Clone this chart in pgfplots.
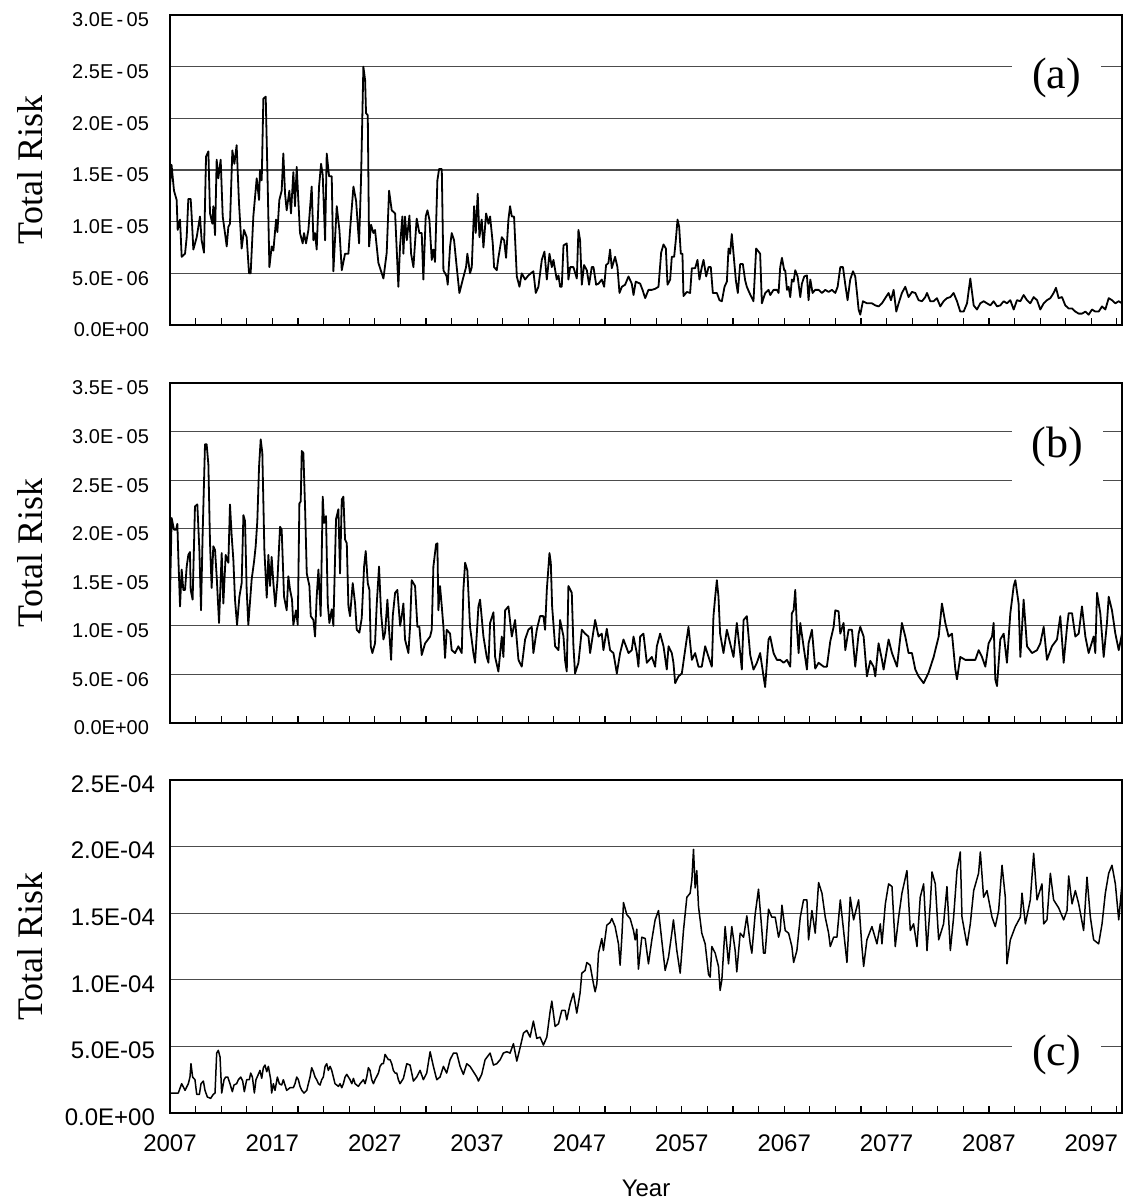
\documentclass[border=0pt]{standalone}
\usepackage{fontspec}
\setmainfont{Liberation Sans}
\newfontfamily\timesfont{Liberation Serif}
\usepackage{pgfplots}
\pgfplotsset{compat=1.18}

% y values: (a),(b) in units of 1E-06, (c) in units of 1E-05
\pgfplotsset{
  riskaxis/.style={
    scale only axis, width=476pt,
    xmin=2007, xmax=2100, ymin=0,
    axis line style={line width=1pt},
    ymajorgrids, grid style={black!70, line width=0.6pt},
    xtick={2007,2009.5,...,2099.6},
    xtick pos=bottom, tick align=inside,
    major tick length=3.5pt,
    x tick style={black, line width=0.6pt},
    ytick style={draw=none},
    ylabel={Total Risk},
    ylabel style={font=\timesfont\fontsize{18}{20}\selectfont,
      at={(axis description cs:0,0.5)}, anchor=center, rotate=0, yshift=70pt},
  },
  risk/.style={black, line width=0.9pt, no marks, line join=round},
}
\tikzset{panel/.style={fill=white, inner xsep=10pt, inner ysep=9pt,
    font=\timesfont\fontsize{22}{24}\selectfont}}
\newcommand{\smallticks}{\fontsize{10}{11}\selectfont}

\begin{document}
\begin{tikzpicture}
\path[use as bounding box] (0,0) rectangle (561.5pt,-600.5pt);

% ---------- (a)
\begin{axis}[riskaxis, at={(85pt,-7.5pt)}, anchor=north west,
  height=155pt, ymax=30,
  ytick={0,5,...,30},
  yticklabels={0.0E+00,5.0E\,-\,06,1.0E\,-\,05,1.5E\,-\,05,2.0E\,-\,05,2.5E\,-\,05,3.0E\,-\,05},
  yticklabel style={font=\smallticks, xshift=-7pt, yshift=-2.5pt},
  xticklabel=\empty]
\addplot[risk] coordinates {
(2007.00,13.4)(2007.15,15.5)(2007.39,13.0)(2007.65,12.1)(2007.75,9.2)(2007.98,10.2)
(2008.14,6.6)(2008.47,6.9)(2008.63,8.5)(2008.79,12.2)(2009.02,12.2)(2009.12,10.5)
(2009.28,7.3)(2009.61,8.5)(2009.93,10.5)(2010.09,8.2)(2010.32,7.0)(2010.52,16.3)
(2010.75,16.8)(2010.91,10.8)(2011.14,9.8)(2011.23,11.5)(2011.40,8.7)(2011.56,16.0)
(2011.72,14.2)(2011.95,16.0)(2012.15,10.5)(2012.37,8.9)(2012.54,7.6)(2012.70,9.5)
(2012.86,9.8)(2013.09,16.9)(2013.29,15.6)(2013.51,17.4)(2013.74,11.8)(2014.00,7.4)
(2014.23,9.2)(2014.49,8.5)(2014.72,5.0)(2014.88,5.0)(2015.14,10.5)(2015.47,14.2)
(2015.70,12.1)(2015.79,15.0)(2015.96,14.0)(2016.12,21.9)(2016.35,22.1)(2016.54,13.7)
(2016.71,5.6)(2016.93,7.6)(2017.10,7.2)(2017.36,10.2)(2017.49,9.0)(2017.68,12.1)
(2017.91,13.0)(2018.07,16.6)(2018.24,12.7)(2018.40,11.1)(2018.66,13.0)(2018.82,10.8)
(2019.05,14.8)(2019.21,11.5)(2019.38,15.3)(2019.54,12.0)(2019.70,8.9)(2019.96,7.9)
(2020.09,8.9)(2020.29,7.9)(2020.52,9.2)(2020.84,13.4)(2021.01,8.2)(2021.17,8.9)
(2021.33,7.3)(2021.56,13.4)(2021.76,15.6)(2021.92,14.5)(2022.15,8.2)(2022.31,16.6)
(2022.54,14.4)(2022.80,14.4)(2022.96,5.2)(2023.29,11.5)(2023.55,9.2)(2023.78,5.3)
(2024.10,6.9)(2024.43,6.9)(2024.59,9.2)(2024.92,13.4)(2025.18,12.0)(2025.47,7.9)
(2025.66,14.0)(2025.89,25.0)(2026.06,23.7)(2026.15,20.5)(2026.32,20.3)(2026.45,7.6)
(2026.64,9.7)(2026.87,8.9)(2027.03,9.2)(2027.36,6.0)(2027.85,4.5)(2028.17,7.0)
(2028.40,13.0)(2028.66,11.1)(2028.99,10.8)(2029.31,3.7)(2029.47,7.6)(2029.70,10.5)
(2029.80,6.9)(2029.96,10.5)(2030.13,8.2)(2030.39,10.6)(2030.55,6.9)(2030.78,5.6)
(2030.94,8.0)(2031.10,10.3)(2031.36,8.9)(2031.59,8.9)(2031.75,4.4)(2031.98,10.5)
(2032.15,11.1)(2032.34,10.2)(2032.57,6.3)(2032.73,7.3)(2032.89,6.1)(2033.12,14.0)
(2033.29,15.1)(2033.55,15.1)(2033.71,5.3)(2034.03,4.7)(2034.13,3.9)(2034.36,7.6)
(2034.52,8.9)(2034.75,8.2)(2035.01,5.6)(2035.27,3.1)(2035.60,4.4)(2035.92,5.6)
(2036.05,6.9)(2036.31,5.0)(2036.48,5.6)(2036.71,11.5)(2036.87,8.9)(2037.06,12.7)
(2037.23,8.5)(2037.45,10.2)(2037.62,7.5)(2037.88,10.8)(2038.11,9.8)(2038.27,10.5)
(2038.53,7.9)(2038.66,5.6)(2038.92,5.3)(2039.08,6.5)(2039.41,8.5)(2039.64,8.2)
(2039.83,6.5)(2040.06,10.2)(2040.22,11.5)(2040.39,10.5)(2040.61,10.5)(2040.88,4.7)
(2041.14,3.7)(2041.36,5.0)(2041.69,4.4)(2042.01,4.8)(2042.50,5.2)(2042.73,3.1)
(2042.99,3.7)(2043.32,6.3)(2043.58,7.1)(2043.81,4.4)(2044.07,6.9)(2044.30,5.6)
(2044.46,6.3)(2044.78,4.4)(2044.95,4.8)(2045.11,3.7)(2045.27,3.7)(2045.44,7.7)
(2045.76,7.9)(2045.92,4.4)(2046.09,5.6)(2046.41,5.6)(2046.74,4.5)(2046.90,9.2)
(2047.06,8.2)(2047.23,3.9)(2047.45,5.8)(2047.72,5.3)(2047.94,3.9)(2048.20,5.6)
(2048.37,5.6)(2048.63,3.9)(2048.86,4.0)(2049.18,4.4)(2049.41,3.7)(2049.60,5.8)
(2049.83,6.0)(2049.99,7.3)(2050.16,5.5)(2050.48,6.6)(2050.71,5.6)(2050.91,3.1)
(2051.14,3.7)(2051.46,3.9)(2051.79,4.7)(2052.11,4.0)(2052.28,2.9)(2052.50,4.2)
(2052.93,4.0)(2053.16,3.4)(2053.42,2.6)(2053.74,3.4)(2054.07,3.4)(2054.39,3.5)
(2054.72,3.7)(2054.98,7.0)(2055.21,7.8)(2055.44,7.4)(2055.60,3.9)(2055.86,4.4)
(2056.02,6.6)(2056.25,6.6)(2056.41,8.2)(2056.58,10.2)(2056.74,9.5)(2056.90,6.9)
(2057.06,6.9)(2057.16,2.8)(2057.49,3.2)(2057.81,3.1)(2057.98,5.5)(2058.30,5.5)
(2058.53,6.3)(2058.72,4.4)(2058.95,5.6)(2059.12,6.3)(2059.38,4.7)(2059.61,5.6)
(2059.83,5.6)(2060.03,3.1)(2060.42,3.1)(2060.68,2.4)(2060.91,2.3)(2061.17,3.7)
(2061.40,4.2)(2061.56,7.4)(2061.72,6.9)(2061.88,8.8)(2062.05,6.9)(2062.28,4.3)
(2062.47,3.1)(2062.70,5.9)(2062.96,5.9)(2063.19,4.3)(2063.35,3.7)(2063.61,3.1)
(2064.00,2.3)(2064.26,7.4)(2064.65,6.9)(2064.82,2.1)(2065.15,3.1)(2065.47,3.4)
(2065.64,2.9)(2065.96,3.4)(2066.29,3.4)(2066.45,3.1)(2066.61,5.6)(2066.78,6.5)
(2067.00,5.3)(2067.10,5.3)(2067.27,3.4)(2067.43,3.7)(2067.59,2.7)(2067.75,4.4)
(2067.92,4.2)(2068.08,5.3)(2068.31,4.7)(2068.57,2.7)(2068.73,4.0)(2068.96,4.7)
(2069.22,4.8)(2069.38,2.4)(2069.55,4.4)(2069.77,3.1)(2070.03,3.4)(2070.36,3.4)
(2070.69,3.1)(2071.01,3.4)(2071.34,3.2)(2071.66,3.4)(2071.99,3.1)(2072.22,3.7)
(2072.48,5.6)(2072.74,5.6)(2072.97,3.9)(2073.19,2.4)(2073.45,4.4)(2073.72,5.2)
(2073.94,4.7)(2074.11,3.1)(2074.27,1.5)(2074.43,1.0)(2074.69,2.3)(2075.08,2.1)
(2075.57,2.1)(2075.90,1.9)(2076.22,1.8)(2076.55,2.1)(2076.87,2.6)(2077.20,3.1)
(2077.43,2.4)(2077.69,3.4)(2077.95,1.3)(2078.18,2.1)(2078.50,3.1)(2078.83,3.7)
(2079.15,2.7)(2079.48,3.2)(2079.81,3.1)(2080.13,2.4)(2080.46,2.3)(2080.78,2.7)
(2080.95,3.1)(2081.27,2.3)(2081.60,2.3)(2081.92,2.6)(2082.25,1.8)(2082.57,2.3)
(2082.90,2.6)(2083.23,2.7)(2083.55,3.1)(2083.88,2.3)(2084.20,1.3)(2084.53,1.3)
(2084.86,2.1)(2085.18,4.5)(2085.51,1.9)(2085.83,1.5)(2086.16,2.1)(2086.48,2.3)
(2086.81,2.1)(2087.14,1.9)(2087.46,2.3)(2087.79,1.8)(2088.11,1.9)(2088.44,2.3)
(2088.76,2.1)(2089.09,2.4)(2089.42,1.5)(2089.74,2.4)(2090.07,2.3)(2090.39,2.9)
(2090.72,2.4)(2091.04,2.1)(2091.37,2.7)(2091.70,2.4)(2092.02,1.5)(2092.35,2.1)
(2092.67,2.4)(2093.00,2.6)(2093.32,3.1)(2093.55,3.6)(2093.81,2.6)(2094.14,2.7)
(2094.46,1.9)(2094.79,1.6)(2095.12,1.6)(2095.44,1.3)(2095.77,1.1)(2096.09,1.1)
(2096.42,1.3)(2096.74,1.0)(2097.07,1.5)(2097.39,1.3)(2097.72,1.3)(2098.05,1.8)
(2098.37,1.5)(2098.70,2.6)(2099.02,2.4)(2099.35,2.1)(2099.68,2.3)(2100.00,2.1)
};
\node[panel] at (axis cs:2093.6,23.9) {(a)};
\end{axis}

% ---------- (b)
\begin{axis}[riskaxis, at={(85pt,-191.5pt)}, anchor=north west,
  height=170pt, ymax=35,
  ytick={0,5,...,35},
  yticklabels={0.0E+00,5.0E\,-\,06,1.0E\,-\,05,1.5E\,-\,05,2.0E\,-\,05,2.5E\,-\,05,3.0E\,-\,05,3.5E\,-\,05},
  yticklabel style={font=\smallticks, xshift=-7pt, yshift=-2.5pt},
  xticklabel=\empty]
\addplot[risk] coordinates {
(2007.00,13.0)(2007.16,21.1)(2007.39,19.9)(2007.59,19.9)(2007.72,20.5)(2007.81,17.2)
(2007.98,12.0)(2008.14,15.8)(2008.30,13.7)(2008.47,13.7)(2008.63,16.1)(2008.79,17.3)
(2008.95,17.6)(2009.02,13.7)(2009.21,12.7)(2009.44,22.3)(2009.67,22.5)(2009.87,17.8)
(2010.03,11.6)(2010.19,19.5)(2010.42,28.7)(2010.58,28.7)(2010.75,26.6)(2010.91,18.5)
(2011.07,13.9)(2011.23,18.2)(2011.40,17.8)(2011.56,15.1)(2011.79,10.3)(2012.05,17.5)
(2012.21,12.3)(2012.44,17.3)(2012.70,16.5)(2012.86,22.5)(2013.03,19.2)(2013.19,16.8)
(2013.35,12.7)(2013.55,10.1)(2013.78,13.0)(2014.00,14.4)(2014.17,21.4)(2014.33,20.8)
(2014.49,13.7)(2014.65,10.1)(2014.98,14.8)(2015.21,16.6)(2015.37,18.2)(2015.53,20.8)
(2015.70,26.4)(2015.86,29.2)(2016.02,27.8)(2016.22,17.8)(2016.45,12.9)(2016.61,17.3)
(2016.77,14.1)(2016.93,17.1)(2017.10,14.4)(2017.29,12.0)(2017.49,14.6)(2017.75,20.2)
(2017.91,19.9)(2018.14,13.0)(2018.40,11.6)(2018.56,15.1)(2018.73,13.7)(2018.92,12.7)
(2019.05,10.1)(2019.31,11.6)(2019.48,10.1)(2019.64,22.6)(2019.77,22.8)(2019.87,28.0)
(2020.03,27.8)(2020.20,22.0)(2020.36,15.4)(2020.62,14.1)(2020.75,11.0)(2021.01,10.6)
(2021.17,8.9)(2021.33,13.0)(2021.50,15.8)(2021.72,11.0)(2021.92,23.3)(2022.05,20.6)
(2022.24,21.3)(2022.41,12.3)(2022.57,10.3)(2022.80,11.7)(2022.96,10.0)(2023.22,21.0)
(2023.45,22.0)(2023.61,15.4)(2023.78,23.0)(2023.94,23.3)(2024.10,18.9)(2024.27,18.5)
(2024.43,12.0)(2024.59,11.0)(2024.85,14.4)(2025.08,12.3)(2025.24,9.6)(2025.50,9.3)
(2025.73,10.8)(2025.96,16.1)(2026.12,17.7)(2026.32,14.4)(2026.48,13.7)(2026.61,7.9)
(2026.77,7.2)(2027.03,8.2)(2027.20,12.3)(2027.42,16.1)(2027.62,11.3)(2027.85,8.6)
(2028.01,9.3)(2028.24,12.7)(2028.40,9.6)(2028.60,6.5)(2028.76,11.0)(2028.99,13.4)
(2029.21,13.7)(2029.48,10.0)(2029.64,11.0)(2029.80,12.3)(2029.96,8.6)(2030.29,7.2)
(2030.45,9.9)(2030.61,14.7)(2030.94,14.1)(2031.17,9.9)(2031.36,9.9)(2031.59,7.0)
(2031.92,8.2)(2032.41,8.9)(2032.57,9.6)(2032.73,16.1)(2032.99,18.4)(2033.12,18.5)
(2033.22,11.6)(2033.38,14.1)(2033.55,12.0)(2033.71,9.9)(2033.87,6.7)(2034.03,9.6)
(2034.36,9.2)(2034.52,7.5)(2034.85,7.2)(2035.17,7.9)(2035.50,7.2)(2035.66,13.7)
(2035.83,16.5)(2036.05,15.7)(2036.31,9.9)(2036.64,7.2)(2036.80,6.2)(2037.13,12.0)
(2037.29,12.7)(2037.62,8.9)(2037.94,6.8)(2038.11,6.2)(2038.27,10.3)(2038.60,11.4)
(2038.76,6.8)(2039.08,5.3)(2039.41,8.9)(2039.57,6.8)(2039.74,11.6)(2040.06,12.0)
(2040.39,8.9)(2040.71,10.6)(2041.04,6.5)(2041.36,5.8)(2041.69,8.6)(2042.01,9.6)
(2042.34,9.9)(2042.50,7.2)(2042.83,9.6)(2043.15,11.0)(2043.48,11.0)(2043.64,9.6)
(2043.81,13.7)(2044.07,17.5)(2044.20,16.5)(2044.33,12.0)(2044.62,7.9)(2044.95,7.5)
(2045.11,10.6)(2045.44,8.9)(2045.60,6.4)(2045.76,5.3)(2045.92,14.1)(2046.25,13.4)
(2046.41,7.9)(2046.57,5.1)(2046.90,6.2)(2047.23,9.6)(2047.55,9.2)(2047.88,8.9)
(2048.04,7.2)(2048.53,10.6)(2048.86,8.9)(2049.18,9.2)(2049.34,7.5)(2049.67,9.7)
(2049.99,7.5)(2050.32,7.2)(2050.65,5.1)(2050.97,7.2)(2051.30,8.6)(2051.79,7.2)
(2052.11,7.5)(2052.28,8.9)(2052.60,7.2)(2052.76,5.8)(2052.93,8.9)(2053.25,9.2)
(2053.58,6.2)(2054.07,6.8)(2054.39,5.8)(2054.56,7.9)(2054.88,9.2)(2055.21,7.9)
(2055.53,5.5)(2055.70,7.9)(2056.02,7.2)(2056.18,6.2)(2056.35,4.1)(2056.67,4.8)
(2057.00,5.1)(2057.32,7.5)(2057.65,9.9)(2057.98,6.5)(2058.30,7.2)(2058.63,5.8)
(2058.95,5.8)(2059.28,7.9)(2059.61,6.8)(2059.93,5.8)(2060.09,11.0)(2060.26,13.0)
(2060.42,14.7)(2060.58,13.0)(2060.74,9.2)(2061.07,7.2)(2061.40,9.6)(2061.72,8.2)
(2062.05,6.8)(2062.37,10.3)(2062.70,7.2)(2062.86,5.5)(2063.03,10.6)(2063.35,11.0)
(2063.68,7.0)(2064.00,5.5)(2064.33,6.2)(2064.65,7.2)(2064.98,4.8)(2065.14,3.7)
(2065.47,8.6)(2065.63,8.9)(2065.96,7.2)(2066.28,6.5)(2066.61,6.5)(2066.94,6.2)
(2067.27,6.5)(2067.59,5.8)(2067.75,11.3)(2067.92,11.6)(2068.08,13.7)(2068.24,9.9)
(2068.41,7.2)(2068.57,10.3)(2068.89,7.9)(2069.22,5.5)(2069.38,8.2)(2069.71,9.6)
(2070.03,5.6)(2070.36,6.2)(2070.85,5.8)(2071.17,5.8)(2071.50,8.4)(2071.83,9.9)
(2071.99,11.6)(2072.31,11.5)(2072.48,9.2)(2072.80,10.3)(2072.97,7.5)(2073.29,9.6)
(2073.62,9.6)(2073.94,5.8)(2074.27,9.2)(2074.43,9.9)(2074.76,8.9)(2075.08,4.8)
(2075.41,6.4)(2075.73,5.8)(2075.90,4.8)(2076.22,8.2)(2076.55,6.5)(2076.71,5.5)
(2077.20,8.6)(2077.53,7.2)(2078.02,5.8)(2078.50,10.3)(2078.83,8.9)(2079.15,7.2)
(2079.48,7.2)(2079.81,5.5)(2080.13,4.8)(2080.62,4.1)(2081.11,5.2)(2081.60,6.8)
(2082.09,8.9)(2082.41,12.3)(2082.74,10.3)(2083.06,8.9)(2083.39,9.2)(2083.72,5.5)
(2083.88,4.5)(2084.20,6.8)(2084.69,6.5)(2085.18,6.5)(2085.67,6.5)(2086.00,7.5)
(2086.32,6.8)(2086.65,5.8)(2086.97,8.2)(2087.30,8.9)(2087.46,10.3)(2087.62,4.5)
(2087.79,3.8)(2088.11,8.6)(2088.44,9.2)(2088.76,6.2)(2089.09,11.3)(2089.42,14.1)
(2089.58,14.7)(2089.90,12.3)(2090.07,6.8)(2090.39,12.7)(2090.72,7.9)(2091.21,7.2)
(2091.70,7.5)(2092.02,8.2)(2092.35,9.9)(2092.67,6.5)(2093.16,7.9)(2093.65,8.6)
(2093.97,11.0)(2094.30,6.2)(2094.63,9.9)(2094.79,11.3)(2095.12,11.3)(2095.44,8.9)
(2095.77,9.2)(2096.09,12.0)(2096.42,8.9)(2096.74,7.2)(2097.23,8.9)(2097.39,7.2)
(2097.56,13.4)(2097.88,11.3)(2098.21,6.8)(2098.53,10.3)(2098.70,13.0)(2099.02,11.6)
(2099.35,9.2)(2099.68,7.5)(2100.00,9.2)
};
\node[panel, inner ysep=12pt] at (axis cs:2093.7,28.4) {(b)};
\end{axis}

% ---------- (c)
\begin{axis}[riskaxis, at={(85pt,-390pt)}, anchor=north west,
  height=166.5pt, ymax=25,
  ytick={0,5,...,25},
  yticklabels={0.0E+00,5.0E-05,1.0E-04,1.5E-04,2.0E-04,2.5E-04},
  yticklabel style={font=\fontsize{12}{14}\selectfont, xshift=-4pt, yshift=-2pt},
  xticklabels={2007,,,,2017,,,,2027,,,,2037,,,,2047,,,,2057,,,,2067,,,,2077,,,,2087,,,,2097,,},
  xticklabel style={font=\fontsize{12}{14}\selectfont, anchor=center, yshift=-15pt},
  xlabel={Year},
  xlabel style={font=\fontsize{12}{14}\selectfont,
    at={(axis description cs:0.5,0)}, anchor=center, yshift=-37.5pt}]
\addplot[risk, line width=0.75pt] coordinates {
(2007.00,1.5)(2007.81,1.5)(2008.14,2.2)(2008.47,1.7)(2008.79,2.2)(2008.95,2.7)
(2009.05,3.7)(2009.21,2.7)(2009.44,2.5)(2009.61,1.4)(2009.87,1.4)(2010.03,2.2)
(2010.26,2.4)(2010.42,1.7)(2010.65,1.2)(2010.97,1.1)(2011.23,1.4)(2011.40,1.5)
(2011.56,4.5)(2011.72,4.7)(2011.89,4.2)(2012.05,1.5)(2012.28,2.5)(2012.44,2.7)
(2012.64,2.7)(2012.86,2.2)(2013.09,1.6)(2013.25,2.1)(2013.51,2.2)(2013.68,2.5)
(2013.91,2.7)(2014.10,2.4)(2014.26,1.6)(2014.49,2.5)(2014.75,2.5)(2014.88,3.0)
(2015.05,2.7)(2015.24,1.5)(2015.40,2.5)(2015.63,2.9)(2015.79,3.2)(2015.96,2.6)
(2016.12,3.4)(2016.28,3.6)(2016.45,3.1)(2016.61,3.5)(2016.84,2.5)(2016.93,1.5)
(2017.10,2.2)(2017.26,1.7)(2017.49,2.7)(2017.68,2.2)(2017.91,2.1)(2018.07,2.5)
(2018.40,1.7)(2018.73,1.9)(2019.05,1.9)(2019.21,2.2)(2019.38,2.7)(2019.54,2.5)
(2019.70,2.0)(2019.87,1.7)(2020.09,1.5)(2020.36,1.7)(2020.52,2.2)(2020.68,2.7)
(2020.84,3.4)(2021.01,3.1)(2021.17,2.7)(2021.33,2.5)(2021.50,2.2)(2021.66,2.1)
(2021.82,2.5)(2021.98,2.7)(2022.15,3.5)(2022.31,3.7)(2022.47,3.2)(2022.64,3.5)
(2022.80,3.2)(2022.96,2.7)(2023.12,2.2)(2023.29,2.1)(2023.45,2.0)(2023.61,2.2)
(2023.78,1.9)(2023.94,2.2)(2024.10,2.7)(2024.27,2.9)(2024.43,2.7)(2024.59,2.5)
(2024.76,2.2)(2024.92,2.6)(2025.08,2.2)(2025.40,2.0)(2025.57,2.2)(2025.89,2.5)
(2026.06,2.2)(2026.22,2.7)(2026.38,3.4)(2026.54,3.2)(2026.71,2.5)(2026.87,2.2)
(2027.03,2.5)(2027.36,3.0)(2027.52,3.5)(2027.69,3.7)(2027.85,3.7)(2028.01,4.4)
(2028.17,4.2)(2028.34,4.0)(2028.50,4.0)(2028.66,3.7)(2028.82,3.2)(2028.99,3.0)
(2029.15,3.0)(2029.31,2.5)(2029.47,2.2)(2029.80,2.6)(2030.13,3.7)(2030.45,3.6)
(2030.78,2.4)(2031.10,2.7)(2031.43,3.2)(2031.75,2.5)(2032.08,3.0)(2032.41,4.6)
(2032.73,3.5)(2033.06,2.5)(2033.38,2.7)(2033.71,3.5)(2034.03,3.0)(2034.36,4.0)
(2034.69,4.5)(2035.01,4.5)(2035.34,3.5)(2035.66,2.9)(2035.99,3.7)(2036.31,3.5)
(2036.64,3.1)(2036.97,2.7)(2037.13,2.4)(2037.45,2.9)(2037.78,4.0)(2038.27,4.5)
(2038.60,3.6)(2038.92,3.7)(2039.25,4.0)(2039.57,4.5)(2039.90,4.6)(2040.22,4.5)
(2040.55,5.2)(2040.88,3.9)(2041.20,4.9)(2041.53,6.0)(2041.85,6.2)(2042.18,5.7)
(2042.50,6.9)(2042.83,5.6)(2043.15,5.7)(2043.48,5.1)(2043.81,5.7)(2044.13,7.6)
(2044.30,8.4)(2044.62,6.5)(2044.95,6.7)(2045.27,7.7)(2045.60,7.7)(2045.76,7.0)
(2046.09,8.2)(2046.41,9.0)(2046.74,7.5)(2047.06,9.0)(2047.23,10.5)(2047.55,10.7)
(2047.72,11.3)(2048.04,11.1)(2048.37,9.7)(2048.53,9.1)(2048.70,9.7)(2048.86,12.0)
(2049.18,13.1)(2049.34,12.2)(2049.67,14.1)(2049.99,14.3)(2050.16,14.6)(2050.48,14.0)
(2050.81,12.7)(2050.97,11.1)(2051.14,13.2)(2051.30,15.8)(2051.62,14.9)(2051.95,14.6)
(2052.28,13.7)(2052.44,13.0)(2052.60,13.8)(2052.76,10.8)(2053.09,13.2)(2053.42,13.1)
(2053.74,11.2)(2054.07,13.0)(2054.39,14.5)(2054.72,15.2)(2055.05,12.9)(2055.37,10.7)
(2055.70,11.7)(2056.02,13.5)(2056.18,14.5)(2056.51,12.2)(2056.84,10.5)(2057.16,13.7)
(2057.49,16.2)(2057.81,16.5)(2057.98,17.5)(2058.14,19.8)(2058.30,16.9)(2058.46,18.2)
(2058.63,15.5)(2058.95,13.5)(2059.28,12.7)(2059.61,10.4)(2059.77,10.2)(2059.93,12.5)
(2060.26,12.0)(2060.58,11.0)(2060.74,9.2)(2060.91,10.0)(2061.23,14.0)(2061.56,11.2)
(2061.88,14.0)(2062.21,12.2)(2062.37,10.6)(2062.70,13.5)(2063.03,13.2)(2063.35,14.8)
(2063.68,12.7)(2063.84,12.0)(2064.16,14.9)(2064.49,16.8)(2064.82,13.7)(2064.98,12.0)
(2065.14,12.0)(2065.47,15.3)(2065.79,14.7)(2066.12,14.7)(2066.45,13.2)(2066.61,13.7)
(2066.78,15.6)(2067.10,13.7)(2067.43,13.5)(2067.75,12.5)(2067.92,11.3)(2068.24,12.2)
(2068.57,14.7)(2068.89,16.0)(2069.22,16.0)(2069.38,13.0)(2069.71,15.2)(2070.03,13.5)
(2070.36,17.3)(2070.69,16.5)(2071.01,14.7)(2071.34,13.5)(2071.50,12.5)(2071.83,13.2)
(2072.15,13.2)(2072.48,16.0)(2072.80,13.7)(2073.13,11.3)(2073.45,16.2)(2073.78,14.5)
(2074.27,16.0)(2074.59,12.5)(2074.76,11.0)(2075.08,13.0)(2075.57,14.0)(2076.06,12.7)
(2076.39,14.2)(2076.55,12.7)(2076.88,15.7)(2077.20,17.2)(2077.53,17.0)(2077.85,12.5)
(2078.18,14.7)(2078.50,16.5)(2078.99,18.2)(2079.32,13.7)(2079.64,14.2)(2079.97,12.5)
(2080.29,16.2)(2080.62,17.2)(2080.95,12.2)(2081.27,15.7)(2081.44,18.1)(2081.76,17.2)
(2082.09,13.0)(2082.57,14.2)(2082.90,17.0)(2083.23,12.2)(2083.55,14.7)(2083.88,18.2)
(2084.20,19.6)(2084.37,14.7)(2084.86,12.6)(2085.18,14.2)(2085.51,16.7)(2085.99,18.0)
(2086.16,19.6)(2086.48,16.2)(2086.81,16.7)(2087.30,14.7)(2087.62,14.0)(2087.95,15.2)
(2088.28,18.6)(2088.60,16.2)(2088.76,11.2)(2089.09,13.0)(2089.58,14.0)(2090.07,14.7)
(2090.23,16.5)(2090.56,14.2)(2091.04,16.0)(2091.37,19.5)(2091.70,16.0)(2092.18,17.2)
(2092.35,14.2)(2092.67,14.5)(2093.00,18.0)(2093.32,16.0)(2093.81,15.4)(2094.30,14.5)
(2094.63,15.2)(2094.79,17.8)(2095.12,15.7)(2095.44,16.7)(2095.77,15.7)(2096.25,13.7)
(2096.58,17.7)(2096.91,14.7)(2097.23,13.0)(2097.72,12.7)(2098.05,14.2)(2098.37,16.5)
(2098.70,18.0)(2099.02,18.6)(2099.35,17.2)(2099.68,14.5)(2100.00,17.2)
};
\node[panel] at (axis cs:2093.6,4.35) {(c)};
\end{axis}
\end{tikzpicture}
\end{document}
